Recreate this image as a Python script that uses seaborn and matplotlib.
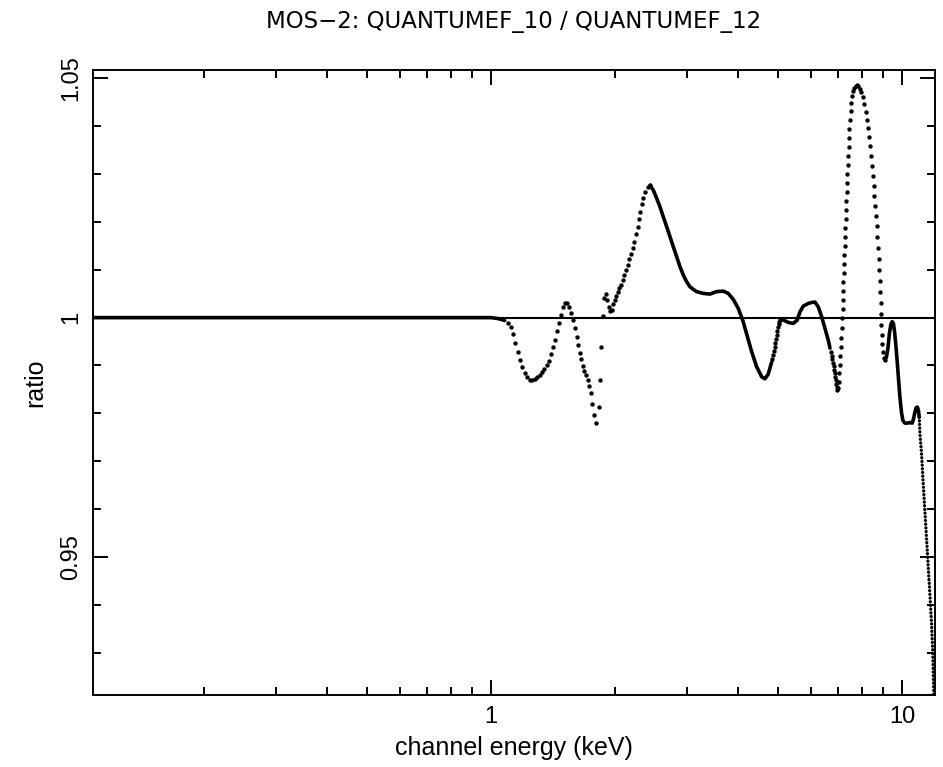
import matplotlib
matplotlib.use("Agg")
import matplotlib.pyplot as plt
import seaborn as sns
from matplotlib.ticker import LogLocator, MultipleLocator, FixedLocator, FuncFormatter, NullFormatter
import numpy as np

# ratio curve, split where the reference looks solid vs dotted
flat_e = [0.1076, 0.50, 1.00, 1.04, 1.08]
flat_ratio = [1.0, 1.0, 1.0, 0.9998, 0.9994]

dip_e = [1.102, 1.117, 1.129, 1.146, 1.162, 1.177, 1.192, 1.208, 1.224, 1.244,
         1.261, 1.280, 1.296, 1.316, 1.333, 1.348, 1.366, 1.384, 1.400, 1.413,
         1.432, 1.448, 1.464, 1.478, 1.495, 1.514, 1.534, 1.551, 1.568, 1.581,
         1.598, 1.617, 1.631, 1.647, 1.659, 1.675, 1.687, 1.703, 1.719, 1.735,
         1.751, 1.764, 1.781, 1.801, 1.828, 1.842, 1.855, 1.870, 1.884, 1.902,
         1.919, 1.937, 1.953, 1.970, 1.986, 2.003, 2.020, 2.037, 2.054, 2.072,
         2.091, 2.110, 2.130, 2.151, 2.170, 2.191, 2.212, 2.232, 2.253, 2.275,
         2.291, 2.308, 2.326, 2.347, 2.374, 2.406, 2.438]
dip_ratio = [0.99891, 0.99795, 0.99649, 0.99474, 0.99286, 0.99113, 0.98960, 0.98848, 0.98752, 0.98695,
             0.98689, 0.98716, 0.98752, 0.98800, 0.98862, 0.98925, 0.99008, 0.99098, 0.99232, 0.99378,
             0.99530, 0.99712, 0.99879, 1.00052, 1.00225, 1.00296, 1.00309, 1.00225, 1.00088, 0.99948,
             0.99775, 0.99599, 0.99426, 0.99265, 0.99127, 0.98994, 0.98889, 0.98793, 0.98695, 0.98570,
             0.98418, 0.98194, 0.97958, 0.97804, 0.98125, 0.98695, 0.99390, 1.00031, 1.00401, 1.00484,
             1.00365, 1.00213, 1.00136, 1.00167, 1.00282, 1.00365, 1.00459, 1.00543, 1.00616, 1.00689,
             1.00783, 1.00887, 1.00992, 1.01106, 1.01221, 1.01326, 1.01451, 1.01587, 1.01743, 1.01896,
             1.02050, 1.02209, 1.02363, 1.02505, 1.02626, 1.02724, 1.02760]

shoulder_e = [2.438, 2.483, 2.531, 2.578, 2.626, 2.677, 2.727, 2.778, 2.831, 2.884,
              2.938, 2.994, 3.050, 3.107, 3.166, 3.285, 3.411, 3.541, 3.675, 3.779,
              3.887, 3.997, 4.097, 4.190, 4.309, 4.431, 4.557, 4.642, 4.728, 4.819]
shoulder_ratio = [1.02760, 1.02662, 1.02489, 1.02313, 1.02104, 1.01896, 1.01687, 1.01478, 1.01269, 1.01061,
                  1.00887, 1.00747, 1.00643, 1.00589, 1.00543, 1.00505, 1.00491, 1.00543, 1.00553, 1.00505,
                  1.00380, 1.00192, 0.99948, 0.99656, 0.99286, 0.98973, 0.98764, 0.98722, 0.98820, 0.99071]

rise5_e = [4.841, 4.863, 4.882, 4.901, 4.917, 4.937, 4.956, 4.973, 4.992, 5.012, 5.035, 5.063]
rise5_ratio = [0.99134, 0.99217, 0.99301, 0.99384, 0.99468, 0.99551, 0.99635, 0.99718, 0.99802, 0.99864,
               0.99916, 0.99948]

bump6_e = [5.063, 5.143, 5.289, 5.439, 5.563, 5.647, 5.753, 5.916, 6.040, 6.143, 6.257, 6.378, 6.497,
           6.618, 6.682]
bump6_ratio = [0.99948, 0.99948, 0.99900, 0.99879, 0.99948, 1.00121, 1.00240, 1.00296, 1.00317, 1.00324,
               1.00225, 1.00017, 0.99775, 0.99530, 0.99363]

drop7_e = [6.719, 6.745, 6.772, 6.795, 6.818, 6.841, 6.864, 6.887, 6.910, 6.929, 6.949, 6.968]
drop7_ratio = [0.99280, 0.99207, 0.99134, 0.99061, 0.98987, 0.98914, 0.98841, 0.98768, 0.98695, 0.98622,
               0.98549, 0.98486]

peak8_e = [6.987, 7.014, 7.038, 7.066, 7.077, 7.105, 7.117, 7.133, 7.157, 7.169,
           7.181, 7.193, 7.206, 7.218, 7.230, 7.242, 7.258, 7.270, 7.283, 7.295,
           7.307, 7.323, 7.336, 7.348, 7.365, 7.381, 7.398, 7.414, 7.431, 7.452,
           7.473, 7.498, 7.527, 7.565, 7.612, 7.663, 7.719, 7.784, 7.837, 7.903,
           7.970, 8.037, 8.105, 8.173, 8.219, 8.265, 8.312, 8.358, 8.405, 8.452,
           8.490, 8.533, 8.572, 8.610, 8.644, 8.678, 8.707, 8.741, 8.771, 8.800,
           8.825, 8.850, 8.870, 8.889, 8.909, 8.929, 8.954, 8.990, 9.040, 9.091]
peak8_ratio = [0.98528, 0.98660, 0.98841, 0.99008, 0.99196, 0.99390, 0.99572, 0.99781, 0.99990, 1.00177,
               1.00365, 1.00553, 1.00741, 1.00929, 1.01117, 1.01305, 1.01493, 1.01681, 1.01868, 1.02056,
               1.02244, 1.02432, 1.02620, 1.02808, 1.02996, 1.03184, 1.03372, 1.03560, 1.03747, 1.03935,
               1.04123, 1.04311, 1.04478, 1.04624, 1.04729, 1.04802, 1.04843, 1.04854, 1.04833, 1.04781,
               1.04708, 1.04603, 1.04457, 1.04290, 1.04123, 1.03956, 1.03768, 1.03580, 1.03372, 1.03163,
               1.02954, 1.02745, 1.02537, 1.02328, 1.02119, 1.01910, 1.01681, 1.01451, 1.01221, 1.00992,
               1.00762, 1.00532, 1.00303, 1.00073, 0.99843, 0.99635, 0.99447, 0.99280, 0.99165, 0.99123]

bump9_e = [9.091, 9.168, 9.245, 9.323, 9.401, 9.470, 9.534, 9.604, 9.668, 9.739, 9.805, 9.887,
           9.971, 10.055, 10.168, 10.312, 10.457, 10.593, 10.664, 10.754, 10.832, 10.905, 10.967, 11.017]
bump9_ratio = [0.99123, 0.99175, 0.99363, 0.99676, 0.99864, 0.99916, 0.99875, 0.99676, 0.99405, 0.99071,
               0.98737, 0.98340, 0.98027, 0.97850, 0.97797, 0.97797, 0.97808, 0.97797, 0.97881, 0.98027,
               0.98121, 0.98132, 0.98058, 0.97923]

tail_e = [11.017, 11.059, 11.165, 11.266, 11.374, 11.483, 11.586, 11.697, 11.808, 11.875, 11.915,
          11.955, 11.975]
tail_ratio = [0.97923, 0.97589, 0.97129, 0.96524, 0.95939, 0.95355, 0.94791, 0.94207, 0.93580, 0.93058,
              0.92641, 0.92119, 0.91910]

sns.set_style("white")
plt.rcParams['font.family'] = ['Liberation Sans', 'DejaVu Sans']
plt.rcParams['text.color'] = 'black'
plt.rcParams['axes.labelcolor'] = 'black'
plt.rcParams['xtick.color'] = 'black'
plt.rcParams['ytick.color'] = 'black'

fig = plt.figure(figsize=(9.43, 7.67), dpi=100)
ax = fig.add_axes([93 / 943, 1 - 695 / 767, (934.5 - 93) / 943, (695 - 70) / 767])

ax.axhline(1.0, color='black', lw=1.5, zorder=1)

# solid-looking stretches
for xs, ys in [(flat_e, flat_ratio), (shoulder_e, shoulder_ratio), (bump6_e, bump6_ratio),
               (bump9_e, bump9_ratio)]:
    sns.lineplot(x=xs, y=ys, ax=ax, color='black', lw=2.6, sort=False, estimator=None)

# dotted stretches (individual channels visible)
for xs, ys in [(dip_e, dip_ratio), (rise5_e, rise5_ratio), (drop7_e, drop7_ratio),
               (peak8_e, peak8_ratio)]:
    sns.scatterplot(x=xs, y=ys, ax=ax, color='black', s=10, linewidth=0)

# steep tail past 11 keV
sns.lineplot(x=tail_e, y=tail_ratio, ax=ax, color='black', lw=2.4, sort=False, estimator=None,
             linestyle=(0, (0.01, 1.1)), dash_capstyle='round')

ax.set_xscale('log')
ax.set_xlim(0.1076, 12.0)
ax.set_ylim(0.9212, 1.0517)

ax.xaxis.set_major_locator(LogLocator(base=10, numticks=10))
ax.xaxis.set_minor_locator(LogLocator(base=10, subs=np.arange(2, 10), numticks=10))
ax.xaxis.set_major_formatter(FuncFormatter(lambda v, p: f'{v:g}'))
ax.xaxis.set_minor_formatter(NullFormatter())
ax.yaxis.set_major_locator(FixedLocator([0.95, 1.0, 1.05]))
ax.yaxis.set_minor_locator(MultipleLocator(0.01))
ax.yaxis.set_major_formatter(FuncFormatter(lambda v, p: f'{v:g}'))

ax.tick_params(which='both', direction='in', bottom=True, left=True, top=True, right=True,
               width=1.4, color='black', labelcolor='black', labelsize=17, pad=8)
ax.tick_params(which='major', length=11)
ax.tick_params(which='minor', length=5.5)
for lab in ax.get_yticklabels():
    lab.set_rotation(90)
    lab.set_va('center')

for sp in ax.spines.values():
    sp.set_linewidth(1.4)
    sp.set_color('black')

ax.set_xlabel('channel energy (keV)', fontsize=18, labelpad=6)
ax.set_ylabel('ratio', fontsize=18, labelpad=9)
ax.set_title('MOS\u22122: QUANTUMEF_10 / QUANTUMEF_12', fontsize=16.5, pad=30,
             family='DejaVu Sans', color='black')

fig.savefig('out.png', dpi=100)
